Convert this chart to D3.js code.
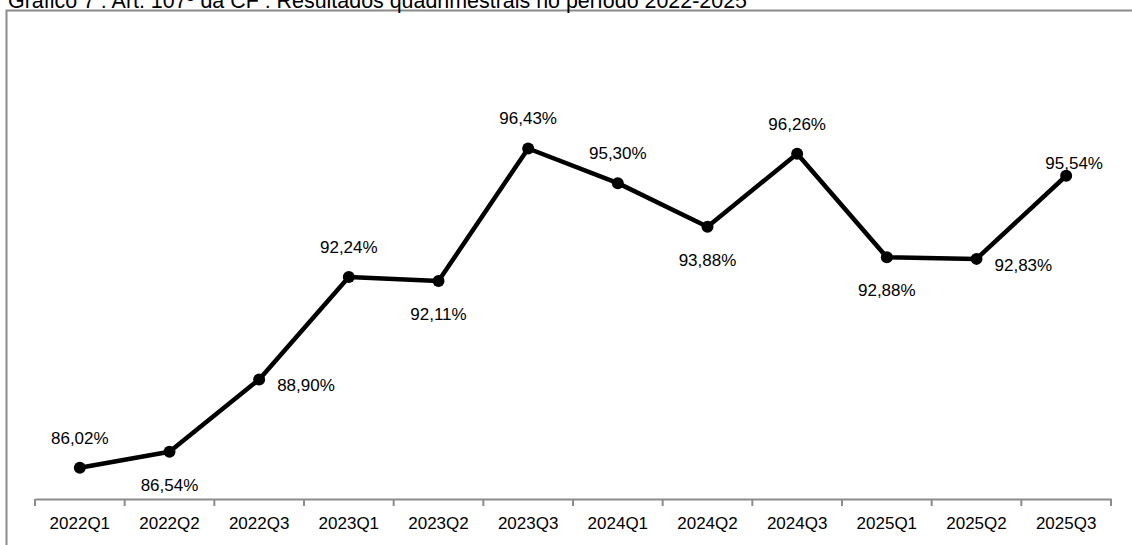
<!DOCTYPE html>
<html><head><meta charset="utf-8">
<script src="https://cdn.jsdelivr.net/npm/d3@7"></script>
<style>body{margin:0;background:#fff}svg{display:block;font-family:"Liberation Sans",Arial,sans-serif}</style>
</head><body>
<svg id="c" width="1132" height="545"></svg>
<script>
const categories = ["2022Q1","2022Q2","2022Q3","2023Q1","2023Q2","2023Q3","2024Q1","2024Q2","2024Q3","2025Q1","2025Q2","2025Q3"];
const values = [86.02, 86.54, 88.90, 92.24, 92.11, 96.43, 95.30, 93.88, 96.26, 92.88, 92.83, 95.54];
const labelPlacement = ["above","below","right","above","below","above","above","below","above","below","right","aboveRight"];
const title = "Gráfico 7 : Art. 107º da CF : Resultados quadrimestrais no período 2022-2025";

const svg = d3.select("#c");
svg.append("rect").attr("x",6.5).attr("y",10.5).attr("width",1140).attr("height",560)
  .attr("fill","none").attr("stroke","#8c8c8c").attr("stroke-width",2);
svg.append("text").attr("x",8).attr("y",7.5).attr("font-size",21.4).attr("fill","#000")
  .attr("textLength",739).attr("lengthAdjust","spacingAndGlyphs").text(title);

const x = d3.scaleBand().domain(categories).range([35,1111]);
const y = d3.scaleLinear().domain([85,100]).range([499,39]);

const ax = svg.append("g").attr("transform","translate(0,499)")
  .call(d3.axisBottom(x).tickSize(0).tickPadding(18));
ax.select(".domain").attr("stroke","#8c8c8c").attr("stroke-width",2);
ax.selectAll("text").attr("font-size",17).attr("fill","#000").attr("font-family","Liberation Sans, Arial, sans-serif");
// boundary ticks
const bounds = categories.map(c=>x(c)).concat([x.range()[1]]);
svg.append("g").selectAll("line").data(bounds).join("line")
  .attr("x1",d=>d).attr("x2",d=>d).attr("y1",499).attr("y2",506)
  .attr("stroke","#8c8c8c").attr("stroke-width",2);

const cx = (c)=>x(c)+x.bandwidth()/2;
const line = d3.line().x((d,i)=>cx(categories[i])).y(d=>y(d));
svg.append("path").datum(values).attr("d",line).attr("fill","none")
  .attr("stroke","#000").attr("stroke-width",4.5).attr("stroke-linejoin","round");
svg.append("g").selectAll("circle").data(values).join("circle")
  .attr("cx",(d,i)=>cx(categories[i])).attr("cy",d=>y(d)).attr("r",6).attr("fill","#000");

const fmt = v => v.toFixed(2).replace(".",",")+"%";
svg.append("g").selectAll("text").data(values).join("text")
  .attr("font-size",17).attr("fill","#000")
  .each(function(d,i){
    const p = labelPlacement[i], px = cx(categories[i]), py = y(d);
    const t = d3.select(this).text(fmt(d));
    if(p==="above"){ t.attr("x",px).attr("y",py-24).attr("text-anchor","middle"); }
    else if(p==="below"){ t.attr("x",px).attr("y",py+39).attr("text-anchor","middle"); }
    else if(p==="right"){ t.attr("x",px+18).attr("y",py+12).attr("text-anchor","start"); }
    else { t.attr("x",px+8).attr("y",py-7).attr("text-anchor","middle"); }
  });
</script>
</body></html>
